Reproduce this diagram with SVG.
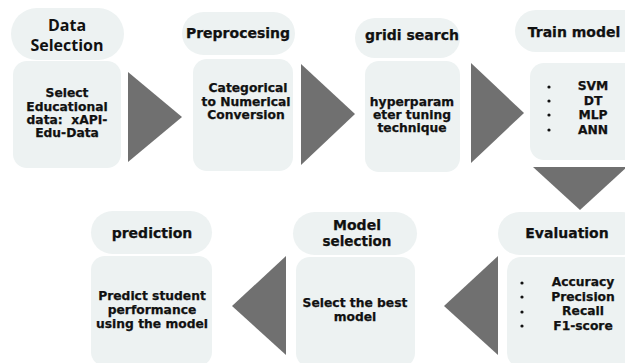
<svg xmlns="http://www.w3.org/2000/svg" width="625" height="363" viewBox="0 0 625 363">
  <style>
    .box { fill: #edf2f2; }
    .arrow { fill: #707070; }
    .title { font-family: "DejaVu Sans", "Liberation Sans", sans-serif; font-weight: bold; font-size: 14px; fill: #111; stroke: #111; stroke-width: 0.25; text-anchor: middle; dominant-baseline: central; }
    .title-os { font-family: "Open Sans", "DejaVu Sans", sans-serif; font-weight: bold; font-size: 16px; fill: #111; text-anchor: middle; dominant-baseline: central; }
    .body { font-family: "DejaVu Sans", "Liberation Sans", sans-serif; font-weight: bold; font-size: 12.3px; fill: #111; stroke: #111; stroke-width: 0.25; text-anchor: middle; dominant-baseline: central; }
    .bullet { fill: #111; }
  </style>
  <rect width="625" height="363" fill="#ffffff"/>

  <!-- step connectors (solid triangles) -->
  <g id="connectors">
    <polygon class="arrow" points="128,72 128,162 182,117"/>
    <polygon class="arrow" points="301,64 301,165 355,114"/>
    <polygon class="arrow" points="471,63 471,163 524,113"/>
    <polygon class="arrow" points="533,167 627,167 580,210"/>
    <polygon class="arrow" points="498,256 498,355 444,306"/>
    <polygon class="arrow" points="286,256 286,355 232,306"/>
  </g>

  <g id="data-selection">
    <rect class="box" x="11" y="8" width="113" height="52" rx="26"/>
    <rect class="box" x="13" y="61" width="108" height="107" rx="14"/>
    <text class="title-os" x="67" y="25">Data</text>
    <text class="title-os" x="67" y="45">Selection</text>
    <text class="body" x="67" y="93">Select</text>
    <text class="body" x="67" y="107">Educational</text>
    <text class="body" x="67" y="120" xml:space="preserve">data:  xAPI-</text>
    <text class="body" x="67" y="133">Edu-Data</text>
  </g>

  <g id="preprocessing">
    <rect class="box" x="182" y="12" width="113" height="43" rx="21.5"/>
    <rect class="box" x="193" y="59" width="100" height="112" rx="14"/>
    <text class="title" x="238" y="33">Preprocesing</text>
    <text class="body" x="248" y="88">Categorical</text>
    <text class="body" x="246" y="102">to Numerical</text>
    <text class="body" x="246" y="115">Conversion</text>
  </g>

  <g id="grid-search">
    <rect class="box" x="355" y="18" width="105" height="40" rx="20"/>
    <rect class="box" x="365" y="61" width="95" height="111" rx="14"/>
    <text class="title" x="412" y="35">gridi search</text>
    <text class="body" x="412" y="102">hyperparam</text>
    <text class="body" x="412" y="115">eter tuning</text>
    <text class="body" x="412" y="128">technique</text>
  </g>

  <g id="train-model">
    <rect class="box" x="515" y="10" width="130" height="42" rx="21"/>
    <rect class="box" x="530" y="63" width="110" height="97" rx="14"/>
    <text class="title" x="574" y="32">Train model</text>
    <circle class="bullet" cx="549" cy="87" r="1.6"/>
    <circle class="bullet" cx="549" cy="101" r="1.6"/>
    <circle class="bullet" cx="549" cy="115" r="1.6"/>
    <circle class="bullet" cx="549" cy="130" r="1.6"/>
    <text class="body" x="593" y="86">SVM</text>
    <text class="body" x="593" y="101">DT</text>
    <text class="body" x="593" y="115">MLP</text>
    <text class="body" x="593" y="130">ANN</text>
  </g>

  <g id="evaluation">
    <rect class="box" x="498" y="212" width="145" height="43" rx="21.5"/>
    <rect class="box" x="507" y="257" width="133" height="110" rx="14"/>
    <text class="title" x="567" y="233">Evaluation</text>
    <circle class="bullet" cx="522" cy="283" r="1.6"/>
    <circle class="bullet" cx="522" cy="297" r="1.6"/>
    <circle class="bullet" cx="522" cy="312" r="1.6"/>
    <circle class="bullet" cx="522" cy="326" r="1.6"/>
    <text class="body" x="583" y="282">Accuracy</text>
    <text class="body" x="583" y="297">Precision</text>
    <text class="body" x="583" y="311">Recall</text>
    <text class="body" x="583" y="326">F1-score</text>
  </g>

  <g id="model-selection">
    <rect class="box" x="293" y="212" width="124" height="43" rx="21.5"/>
    <rect class="box" x="296" y="257" width="119" height="110" rx="14"/>
    <text class="title" x="357" y="224.5">Model</text>
    <text class="title" x="357" y="241" style="font-size:13.5px">selection</text>
    <text class="body" x="355" y="303">Select the best</text>
    <text class="body" x="355" y="317">model</text>
  </g>

  <g id="prediction">
    <rect class="box" x="91" y="211" width="121" height="43" rx="21.5"/>
    <rect class="box" x="91" y="256" width="121" height="110" rx="14"/>
    <text class="title" x="152" y="233">prediction</text>
    <text class="body" x="152" y="296">Predict student</text>
    <text class="body" x="152" y="310">performance</text>
    <text class="body" x="152" y="324">using the model</text>
  </g>
</svg>
